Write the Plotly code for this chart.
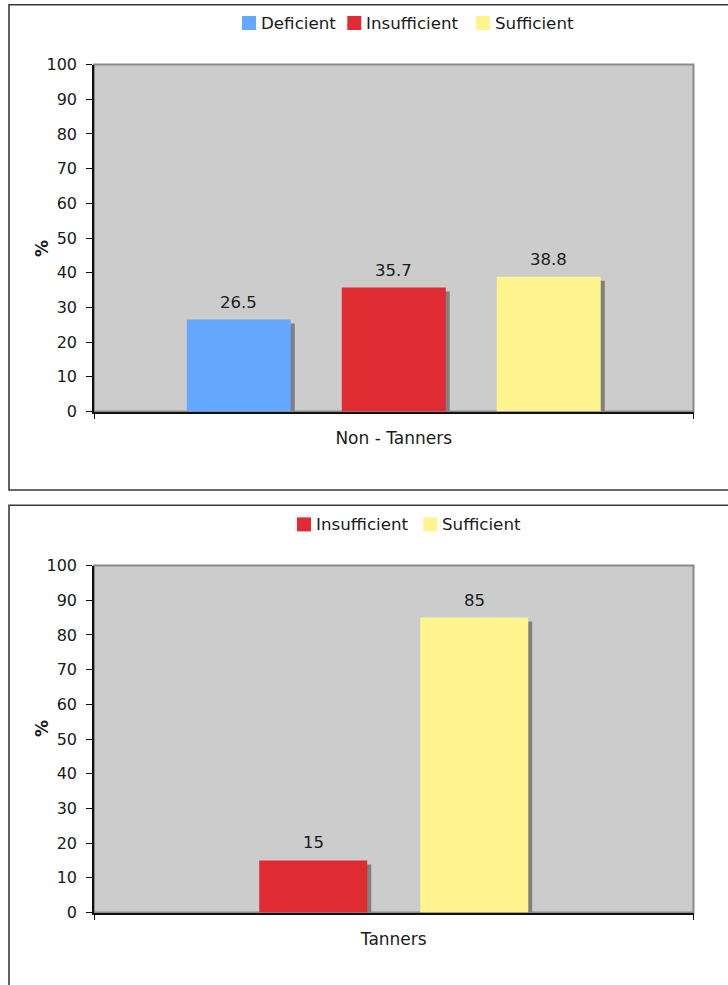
import plotly.graph_objects as go

# ---- data -------------------------------------------------------------
top_group = "Non - Tanners"
top_series = ["Deficient", "Insufficient", "Sufficient"]
top_values = [26.5, 35.7, 38.8]

bottom_group = "Tanners"
bottom_series = ["Insufficient", "Sufficient"]
bottom_values = [15, 85]

series_colors = {"Deficient": "#64a9ff", "Insufficient": "#de2c32", "Sufficient": "#fff48e"}

y_ticks = list(range(0, 101, 10))

# ---- page geometry (pixels) -------------------------------------------
W, H = 728, 985
FONT = "DejaVu Sans"
TEXT = "#1a1a1a"
PLOT_L, PLOT_R = 94, 693.5
PANELS = [
    # plot top, plot bottom, bar width, bar pitch, legend centre y, legend item x positions
    dict(top=64.5, bottom=411.5, bar_w=104, pitch=155, leg_y=23,
         leg_x=[242, 347.3, 476], border=(4.7, 490)),
    dict(top=565.5, bottom=912.5, bar_w=108, pitch=161, leg_y=524.4,
         leg_x=[297, 423.3], border=(505.3, 995)),
]
SHADOW_PX = 4
BOX = 14


def fx(p):
    return p / W


def fy(p):
    return 1 - p / H


fig = go.Figure()
shapes, annotations = [], []

panel_data = [(top_group, top_series, top_values), (bottom_group, bottom_series, bottom_values)]
plot_w = PLOT_R - PLOT_L

for k, ((group, names, vals), geo) in enumerate(zip(panel_data, PANELS)):
    xa = "x" if k == 0 else "x2"
    ya = "y" if k == 0 else "y2"
    plot_h = geo["bottom"] - geo["top"]
    w = geo["bar_w"] / plot_w
    pitch = geo["pitch"] / plot_w
    n = len(vals)
    sdx = SHADOW_PX / plot_w
    sdy = SHADOW_PX / plot_h * 100

    for i, (name, v) in enumerate(zip(names, vals)):
        centre = (i - (n - 1) / 2) * pitch
        # drop shadow behind the bar
        fig.add_trace(go.Bar(
            x=[group], y=[v - sdy], width=[w], offset=[centre - w / 2 + sdx],
            marker=dict(color="#808080", line=dict(width=0)),
            xaxis=xa, yaxis=ya, showlegend=False, hoverinfo="skip"))
        fig.add_trace(go.Bar(
            x=[group], y=[v], width=[w], offset=[centre - w / 2], name=name,
            marker=dict(color=series_colors[name], line=dict(width=0)),
            xaxis=xa, yaxis=ya, showlegend=False))
        annotations.append(dict(
            x=centre, y=v, xref=xa, yref=ya, text=f"{v:g}", showarrow=False,
            yanchor="bottom", yshift=6, font=dict(family=FONT, size=16.5, color=TEXT)))

    # plot-area frame (grey top/right edges)
    shapes.append(dict(type="rect", xref=f"{xa} domain", yref=f"{ya} domain",
                       x0=0, x1=1, y0=0, y1=1, layer="below",
                       line=dict(color="#8a8a8a", width=2), fillcolor="#cccccc"))

    # panel border
    top_border, bottom_border = geo["border"]
    shapes.append(dict(type="rect", xref="paper", yref="paper",
                       x0=fx(9), x1=fx(740), y0=fy(bottom_border), y1=fy(top_border),
                       line=dict(color="#3a3a3a", width=1.6)))

    # y-axis title
    annotations.append(dict(x=fx(29.5), y=fy((geo["top"] + geo["bottom"]) / 2),
                            xref="paper", yref="paper", text="<b>%</b>", textangle=-90,
                            showarrow=False, font=dict(family=FONT, size=17, color=TEXT)))

    # legend: colour box + label
    for name, lx in zip(names, geo["leg_x"]):
        shapes.append(dict(type="rect", xref="paper", yref="paper",
                           x0=fx(lx), x1=fx(lx + BOX),
                           y0=fy(geo["leg_y"] + BOX / 2), y1=fy(geo["leg_y"] - BOX / 2),
                           fillcolor=series_colors[name], line=dict(width=0)))
        annotations.append(dict(x=fx(lx + BOX + 2.5), y=fy(geo["leg_y"]), xref="paper", yref="paper",
                                text=name, showarrow=False, xanchor="left", yanchor="middle",
                                font=dict(family=FONT, size=16.7, color=TEXT)))

axis_common = dict(showgrid=False, zeroline=False, showline=True, linecolor="#111111",
                   linewidth=1.5, ticks="outside", ticklen=6, tickcolor="#111111",
                   automargin=False,
                   tickfont=dict(family=FONT, size=16, color=TEXT))

xdom = [fx(PLOT_L), fx(PLOT_R)]
layout_axes = {}
for k, geo in enumerate(PANELS):
    sx = "" if k == 0 else "2"
    layout_axes[f"xaxis{sx}"] = dict(axis_common, domain=xdom, type="category",
                                     range=[-0.5, 0.5], tickson="boundaries",
                                     ticklabelstandoff=10, anchor=f"y{sx}",
                                     tickfont=dict(family=FONT, size=17, color=TEXT))
    layout_axes[f"yaxis{sx}"] = dict(axis_common, domain=[fy(geo["bottom"]), fy(geo["top"])],
                                     range=[0, 100], tickvals=y_ticks, ticklabelstandoff=6,
                                     anchor=f"x{sx}")

fig.update_layout(
    width=W, height=H, margin=dict(l=0, r=0, t=0, b=0, pad=0, autoexpand=False),
    paper_bgcolor="white", plot_bgcolor="#cccccc",
    barmode="overlay", showlegend=False,
    shapes=shapes, annotations=annotations,
    **layout_axes,
)

fig.write_html("out.html")
